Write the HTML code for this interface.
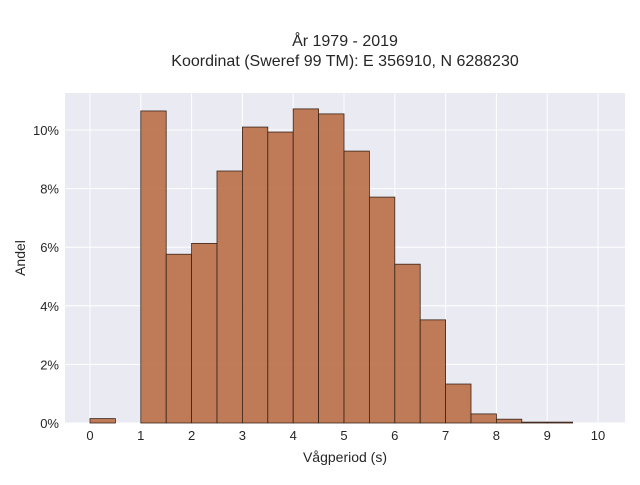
<!DOCTYPE html>
<html><head><meta charset="utf-8"><style>
body{margin:0;background:#fff;font-family:"Liberation Sans",sans-serif;}
svg text{font-family:"Liberation Sans",sans-serif;fill:#262626;}
</style></head><body>
<svg id="chart" width="640" height="480">
<text x="345" y="46" font-size="16" text-anchor="middle">År 1979 - 2019</text>
<text x="345" y="66" font-size="16" text-anchor="middle">Koordinat (Sweref 99 TM): E 356910, N 6288230</text>
<rect x="65" y="93" width="560" height="330" fill="#eaeaf2"/>
<g id="grid"></g><g id="bars"></g><g id="axes"></g>
<text x="345" y="462" font-size="14" text-anchor="middle">Vågperiod (s)</text>
<text transform="translate(25,258) rotate(-90)" font-size="14" text-anchor="middle">Andel</text>
</svg>
<script>
const binStarts=[0,0.5,1,1.5,2,2.5,3,3.5,4,4.5,5,5.5,6,6.5,7,7.5,8,8.5,9,9.5];
const shares=[0.15,0,10.65,5.76,6.13,8.6,10.1,9.93,10.72,10.55,9.28,7.71,5.42,3.52,1.33,0.31,0.13,0.03,0.03,0];
const xTicks=[0,1,2,3,4,5,6,7,8,9,10];
const yTicks=[0,2,4,6,8,10];
const binWidth=0.5;
const NS="http://www.w3.org/2000/svg";
const xs=v=>90+v*50.8, ys=v=>423-v*29.3;
const grid=document.getElementById('grid'),bars=document.getElementById('bars'),axes=document.getElementById('axes');
function mk(tag,attrs,parent){const e=document.createElementNS(NS,tag);for(const k in attrs)e.setAttribute(k,attrs[k]);parent.appendChild(e);return e;}
xTicks.forEach(t=>{
 const l=mk('line',{x1:xs(t),x2:xs(t),y1:93,y2:423,stroke:'#fff','stroke-width':1},grid);
 
 
 const tx=mk('text',{x:xs(t),y:440,'font-size':13,'text-anchor':'middle'},axes);
 tx.textContent=t;
 
 
});
yTicks.forEach(t=>{
 const l=mk('line',{x1:65,x2:625,y1:ys(t),y2:ys(t),stroke:'#fff','stroke-width':1},grid);
 
 
 const tx=mk('text',{x:59,y:ys(t)+5,'font-size':13,'text-anchor':'end'},axes);
 tx.textContent=t+'%';
 
 
});
binStarts.forEach((b,i)=>{
 const v=shares[i]; if(v<=0) return;
 const r=mk('rect',{x:xs(b),y:ys(v),width:xs(b+binWidth)-xs(b),height:ys(0)-ys(v),fill:'#b86a42','fill-opacity':0.88,stroke:'#3a2418','stroke-width':0.8},bars);
 
 
});
</script>
</body></html>
